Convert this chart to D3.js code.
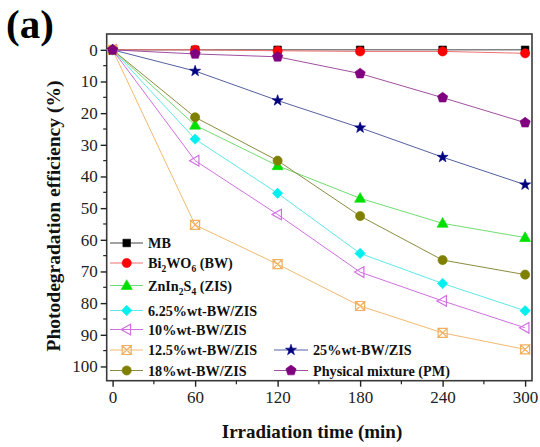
<!DOCTYPE html>
<html><head><meta charset="utf-8">
<script src="https://cdn.jsdelivr.net/npm/d3@7/dist/d3.min.js"></script>
<style>body{margin:0;background:#fff}svg{display:block}text{font-family:"Liberation Serif","Times New Roman",serif}</style>
</head><body><svg id="c" width="540" height="447"></svg>
<script>
const times = [0, 60, 120, 180, 240, 300];
const xTicks = [0, 60, 120, 180, 240, 300];
const yTicks = [0, 10, 20, 30, 40, 50, 60, 70, 80, 90, 100];
const seriesNames = ["MB", "Bi2WO6 (BW)", "ZnIn2S4 (ZIS)", "6.25%wt-BW/ZIS", "10%wt-BW/ZIS", "12.5%wt-BW/ZIS", "25%wt-BW/ZIS", "18%wt-BW/ZIS", "Physical mixture (PM)"];
const MB   = [0, 0, 0, 0, 0, 0];
const BW   = [0, 0, 0.3, 0.5, 0.5, 1.1];
const ZIS  = [0, 23.8, 36.6, 46.9, 54.8, 59.3];
const W625 = [0, 28.2, 45.3, 64.3, 73.8, 82.4];
const W10  = [0, 35.0, 52.0, 70.2, 79.3, 87.8];
const W125 = [0, 55.3, 67.7, 80.9, 89.4, 94.6];
const W25  = [0, 6.7, 16.0, 24.6, 33.9, 42.6];
const W18  = [0, 21.3, 35.0, 52.5, 66.4, 71.0];
const PM   = [0, 1.3, 2.2, 7.5, 15.1, 23.0];
const values = [MB, BW, ZIS, W625, W10, W125, W25, W18, PM];

const FONT = '"Liberation Serif", "Times New Roman", serif';
const styles = [
  {c:"#000000", l:"#444444", m:"square", fill:true},
  {c:"#ff0000", l:"#f07070", m:"circle", fill:true},
  {c:"#00e000", l:"#70dd70", m:"triangle", fill:true},
  {c:"#00f0f0", l:"#60e8e8", m:"diamond", fill:true},
  {c:"#d070e0", l:"#d070e0", m:"ltri", fill:false},
  {c:"#f0b060", l:"#f0bb70", m:"xbox", fill:false},
  {c:"#000080", l:"#5560a0", m:"star", fill:true},
  {c:"#808000", l:"#8c8c40", m:"circle", fill:true},
  {c:"#800080", l:"#a050a0", m:"pentagon", fill:true}
];
const drawOrder = [0,1,2,3,4,5,6,7,8];

const svg = d3.select("#c");
const L = 106.7, R = 532, T = 34, B = 380.7;
const x = d3.scaleLinear().domain([-4.3, 305]).range([L, R]);
const y = d3.scaleLinear().domain([-5, 104.5]).range([T, B]);

function markerPath(type) {
  const p = d3.path();
  if (type === "square") { const s=3.8; p.rect(-s,-s,2*s,2*s); }
  else if (type === "circle") { p.arc(0,0,4.6,0,2*Math.PI); }
  else if (type === "triangle") { const s=5.8; p.moveTo(0,-s); p.lineTo(s*0.95,s*0.68); p.lineTo(-s*0.95,s*0.68); p.closePath(); }
  else if (type === "diamond") { const s=5.2; p.moveTo(0,-s); p.lineTo(s,0); p.lineTo(0,s); p.lineTo(-s,0); p.closePath(); }
  else if (type === "ltri") { const s=5.6; p.moveTo(-s,0); p.lineTo(s*0.68,-s*0.95); p.lineTo(s*0.68,s*0.95); p.closePath(); }
  else if (type === "xbox") { const s=4.5; p.moveTo(-s,-s); p.lineTo(s,-s); p.lineTo(-s,s); p.lineTo(s,s); p.closePath(); p.moveTo(-s,-s); p.lineTo(-s,s); p.moveTo(s,-s); p.lineTo(s,s); }
  else if (type === "star") { const ro=5.8, ri=2.3; for(let i=0;i<10;i++){const r=i%2?ri:ro; const a=-Math.PI/2+i*Math.PI/5; if(i===0)p.moveTo(r*Math.cos(a),r*Math.sin(a)); else p.lineTo(r*Math.cos(a),r*Math.sin(a));} p.closePath(); }
  else if (type === "pentagon") { const r=5.4; for(let i=0;i<5;i++){const a=-Math.PI/2+i*2*Math.PI/5; if(i===0)p.moveTo(r*Math.cos(a),r*Math.sin(a)); else p.lineTo(r*Math.cos(a),r*Math.sin(a));} p.closePath(); }
  return p.toString();
}
function drawMarker(g, st, cx, cy) {
  g.append("path").attr("d", markerPath(st.m)).attr("transform", `translate(${cx},${cy})`)
    .attr("fill", st.fill ? st.c : "none").attr("stroke", st.c).attr("stroke-width", st.fill ? 0.6 : 1.2);
}

// frame
svg.append("rect").attr("x", L).attr("y", T).attr("width", R-L).attr("height", B-T)
  .attr("fill", "none").attr("stroke", "#3a3a3a").attr("stroke-width", 1.6);

// axes
const xAxis = d3.axisBottom(x).tickValues(xTicks).tickSize(6).tickPadding(4).tickFormat(d3.format("d"));
const gx = svg.append("g").attr("transform", `translate(0,${B})`).call(xAxis);
const yAxis = d3.axisLeft(y).tickValues(yTicks).tickSize(6).tickPadding(3).tickFormat(d3.format("d"));
const gy = svg.append("g").attr("transform", `translate(${L},0)`).call(yAxis);
[gx, gy].forEach(g => {
  g.attr("font-family", FONT);
  g.select(".domain").remove();
  g.selectAll(".tick line").attr("stroke", "#222").attr("stroke-width", 1.4);
  g.selectAll(".tick text").attr("font-size", 17).attr("fill", "#222").attr("font-family", FONT);
});
// minor ticks
const xMinor = d3.range(30, 300, 60);
svg.append("g").selectAll("line").data(xMinor).join("line")
  .attr("x1", d=>x(d)).attr("x2", d=>x(d)).attr("y1", B).attr("y2", B+3.5).attr("stroke", "#222").attr("stroke-width", 1.2);
const yMinor = d3.range(5, 105, 10);
svg.append("g").selectAll("line").data(yMinor).join("line")
  .attr("x1", L).attr("x2", L-3.5).attr("y1", d=>y(d)).attr("y2", d=>y(d)).attr("stroke", "#222").attr("stroke-width", 1.2);

// series
const line = d3.line().x((d,i)=>x(times[i])).y(d=>y(d));
drawOrder.forEach(k => {
  const st = styles[k];
  svg.append("path").attr("d", line(values[k])).attr("fill", "none").attr("stroke", st.l).attr("stroke-width", 1);
});
drawOrder.forEach(k => {
  const st = styles[k];
  const g = svg.append("g");
  values[k].forEach((v,i) => drawMarker(g, st, x(times[i]), y(v)));
});

// legend
const legRows = [
  {k:0, col:0, yy:243}, {k:1, col:0, yy:263}, {k:2, col:0, yy:285.5}, {k:3, col:0, yy:310.5},
  {k:4, col:0, yy:329.5}, {k:5, col:0, yy:350}, {k:7, col:0, yy:370.5},
  {k:6, col:1, yy:350}, {k:8, col:1, yy:370.5}
];
const cols = [{x0:110, xm:126.7, x1:143, tx:148}, {x0:274, xm:291, x1:308, tx:313}];
legRows.forEach(r => {
  const st = styles[r.k], c = cols[r.col];
  const g = svg.append("g");
  g.append("line").attr("x1", c.x0).attr("x2", c.x1).attr("y1", r.yy).attr("y2", r.yy).attr("stroke", st.l).attr("stroke-width", 1);
  drawMarker(g, st, c.xm, r.yy);
  const t = g.append("text").attr("x", c.tx).attr("y", r.yy + 5).attr("font-size", 14.2).attr("font-weight", "bold").attr("fill", "#111").attr("font-family", FONT);
  const name = seriesNames[r.k];
  const m = name.match(/^([A-Za-z]+?)(\d)([A-Za-z]+?)(\d)(.*)$/);
  if (r.k === 1 || r.k === 2) {
    t.append("tspan").text(m[1]);
    t.append("tspan").text(m[2]).attr("font-size", 9.5).attr("dy", 4);
    t.append("tspan").text(m[3]).attr("dy", -4);
    t.append("tspan").text(m[4]).attr("font-size", 9.5).attr("dy", 4);
    t.append("tspan").text(m[5]).attr("dy", -4);
  } else t.text(name);
});

// titles
svg.append("text").attr("x", 312).attr("y", 438).attr("text-anchor", "middle").attr("font-family", FONT)
  .attr("font-size", 19).attr("font-weight", "bold").attr("fill", "#111").text("Irradiation time (min)");
svg.append("text").attr("transform", "translate(60,216) rotate(-90)").attr("text-anchor", "middle").attr("font-family", FONT)
  .attr("font-size", 19.5).attr("font-weight", "bold").attr("fill", "#111").text("Photodegradation efficiency (%)");
svg.append("text").attr("x", 6).attr("y", 38).attr("font-size", 41).attr("font-weight", "bold").attr("fill", "#000").attr("font-family", FONT).text("(a)");
</script></body></html>
